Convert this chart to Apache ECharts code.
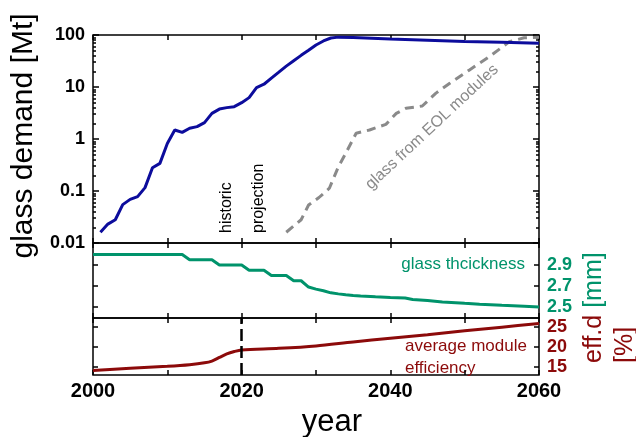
<!DOCTYPE html>
<html><head><meta charset="utf-8">
<script src="https://cdn.jsdelivr.net/npm/echarts@6/dist/echarts.min.js"></script>
<style>html,body{margin:0;padding:0;background:#fff}#c{width:636px;height:437px}</style>
</head><body><div id="c"></div>
<script>
// ---- data ----
const demandYears  = [2001,2002,2003,2004,2005,2006,2007,2008,2009,2010,2011,2012,2013,2014,2015,2016,2017,2018,2019,2020,2021,2022,2023,2024,2025,2026,2027,2028,2029,2030,2031,2032,2033,2035,2040,2045,2050,2055,2060];
const demandValues = [0.0161,0.0231,0.028,0.0547,0.069,0.078,0.116,0.28,0.34,0.82,1.49,1.34,1.61,1.73,2.07,3.11,3.76,4.01,4.19,4.99,6.25,9.75,11.3,14.8,19.3,25.2,32,40.6,50.8,64.3,76.8,87.5,91,89.3,84,79.5,75,72.3,69.6];
const eolYears  = [2026,2028,2029,2030.4,2031.8,2033,2034,2035.4,2037.2,2039.4,2040.8,2042.1,2044.3,2046.1,2048,2050.6,2053.3,2056,2058,2060];
const eolValues = [0.0161,0.028,0.0537,0.075,0.113,0.29,0.53,1.29,1.49,1.91,3.11,3.89,4.31,7.54,11.8,21.1,38.3,74,88.3,90.2];
const thicknessYears  = [2000,2012,2013,2016,2017,2020,2021,2023,2024,2026,2027,2028,2029,2030,2031,2032,2033,2034,2035,2036,2038,2040,2042,2043,2045,2047,2050,2052,2055,2058,2060];
const thicknessValues = [3.0,3.0,2.95,2.95,2.9,2.9,2.85,2.85,2.8,2.8,2.75,2.75,2.69,2.67,2.655,2.635,2.625,2.617,2.61,2.605,2.597,2.59,2.585,2.572,2.562,2.548,2.535,2.527,2.516,2.507,2.5];
const efficiencyYears  = [2000,2005,2010,2013,2015,2016,2017,2018,2019,2020,2025,2030,2035,2040,2045,2050,2055,2060];
const efficiencyValues = [14.0,14.6,15.1,15.5,15.95,16.4,17.3,18.2,18.8,19.2,19.6,20.2,21.2,22.1,23.0,24.0,24.9,25.8];
const xTickLabels = [2000,2020,2040,2060];
const demandTicks = [0.01,0.1,1,10,100];
const thicknessTicks = [2.5,2.7,2.9];
const efficiencyTicks = [15,20,25];
const projectionYear = 2020;

const BLUE='#0c0c9c', GREEN='#00936b', RED='#8c0a0a', GREY='#8a8a8a';
const FONT='Liberation Sans, Arial, sans-serif';
const pairs=(xs,ys)=>xs.map((x,i)=>[x,ys[i]]);

const minorLog=[];
for(let n=-2;n<=1;n++){for(let k=2;k<=9;k++){minorLog.push(n+Math.log10(k));}}

const grids=[
  {left:93,right:97,top:35,height:208},
  {left:93,right:97,top:243,height:75},
  {left:93,right:97,top:318,height:57}
].map(g=>Object.assign(g,{show:true,borderColor:'#000',borderWidth:1.5,backgroundColor:'transparent'}));

const TICK={color:'#000',width:1.5};
function xAx(grid,pos,labels){
  return {type:'value',gridIndex:grid,position:pos,min:2000,max:2060,interval:10,
    axisLine:{show:false,onZero:false},splitLine:{show:false},
    axisTick:{show:true,inside:true,length:5,lineStyle:TICK},
    axisLabel:{show:!!labels,margin:6,color:'#000',fontFamily:FONT,fontWeight:'bold',fontSize:20,
      formatter:v=>xTickLabels.includes(v)?String(v):''}};
}
function yAx(grid,pos,min,max,ticks,labelColor,tickLen){
  return {type:'value',gridIndex:grid,position:pos,min:min,max:max,
    axisLine:{show:false,onZero:false},splitLine:{show:false},
    axisTick:{show:true,inside:true,length:tickLen||5,customValues:ticks,lineStyle:TICK},
    axisLabel:{show:!!labelColor,customValues:ticks,margin:8,color:labelColor||'#000',fontFamily:FONT,fontWeight:'bold',fontSize:18}};
}

const option={
  animation:false,
  grid:grids,
  xAxis:[xAx(0,'bottom'),xAx(0,'top'),xAx(1,'bottom'),xAx(1,'top'),xAx(2,'bottom',true),xAx(2,'top')],
  yAxis:[
    {type:'log',gridIndex:0,position:'left',min:0.01,max:100,logBase:10,
     axisLine:{show:false,onZero:false},splitLine:{show:false},
     axisTick:{show:true,inside:true,length:6,lineStyle:TICK},
     axisLabel:{show:true,margin:8,padding:[5,0,0,0],color:'#000',fontFamily:FONT,fontWeight:'bold',fontSize:18,
       formatter:v=>{const r=demandTicks.find(t=>Math.abs(t-v)/t<1e-6);return r===undefined?'':String(r);}}},
    {type:'log',gridIndex:0,position:'right',min:0.01,max:100,logBase:10,
     axisLine:{show:false,onZero:false},splitLine:{show:false},
     axisTick:{show:true,inside:true,length:6,lineStyle:TICK},axisLabel:{show:false}},
    yAx(0,'left',-2,2,minorLog,null,3),
    yAx(0,'right',-2,2,minorLog,null,3),
    yAx(1,'left',2.395,3.11,thicknessTicks,null,5),
    yAx(1,'right',2.395,3.11,thicknessTicks,GREEN,5),
    yAx(2,'left',12.9,27.2,efficiencyTicks,null,5),
    yAx(2,'right',12.9,27.2,efficiencyTicks,RED,5)
  ],
  series:[
    {type:'line',xAxisIndex:0,yAxisIndex:0,data:pairs(demandYears,demandValues),showSymbol:false,symbol:'none',
     lineStyle:{color:BLUE,width:3},z:3},
    {type:'line',xAxisIndex:0,yAxisIndex:0,data:pairs(eolYears,eolValues),showSymbol:false,symbol:'none',
     lineStyle:{color:GREY,width:3,type:[9,6]},z:2},
    {type:'line',xAxisIndex:2,yAxisIndex:4,data:pairs(thicknessYears,thicknessValues),showSymbol:false,symbol:'none',
     lineStyle:{color:GREEN,width:3}},
    {type:'line',xAxisIndex:4,yAxisIndex:6,data:pairs(efficiencyYears,efficiencyValues),showSymbol:false,symbol:'none',
     smooth:0.3,lineStyle:{color:RED,width:3},
     markLine:{silent:true,symbol:'none',label:{show:false},
       lineStyle:{color:'#000',width:2.5,type:[12,5]},data:[{xAxis:projectionYear}]}}
  ],
  graphic:[
    {type:'text',x:24,y:136,rotation:Math.PI/2,style:{text:'glass demand [Mt]',font:'30px '+FONT,fill:'#000',textAlign:'center',textVerticalAlign:'middle'}},
    {type:'text',x:332,y:422,style:{text:'year',font:'31px '+FONT,fill:'#000',textAlign:'center',textVerticalAlign:'middle'}},
    {type:'text',x:227,y:233,rotation:Math.PI/2,style:{text:'historic',font:'16px '+FONT,fill:'#000',textAlign:'left',textVerticalAlign:'middle'}},
    {type:'text',x:259,y:233,rotation:Math.PI/2,style:{text:'projection',font:'16px '+FONT,fill:'#000',textAlign:'left',textVerticalAlign:'middle'}},
    {type:'text',x:432,y:127,rotation:43*Math.PI/180,style:{text:'glass from EOL modules',font:'16px '+FONT,fill:GREY,textAlign:'center',textVerticalAlign:'middle'}},
    {type:'text',x:525,y:264,style:{text:'glass thcickness',font:'17px '+FONT,fill:GREEN,textAlign:'right',textVerticalAlign:'middle'}},
    {type:'text',x:405,y:346,style:{text:'average module',font:'17px '+FONT,fill:RED,textAlign:'left',textVerticalAlign:'middle'}},
    {type:'text',x:405,y:368,style:{text:'efficiency',font:'17px '+FONT,fill:RED,textAlign:'left',textVerticalAlign:'middle'}},
    {type:'text',x:594,y:363,rotation:Math.PI/2,style:{text:'{r|eff.d }{g|[mm]}',font:'25px '+FONT,textAlign:'left',textVerticalAlign:'middle',
      rich:{r:{fill:RED,font:'25px '+FONT},g:{fill:GREEN,font:'25px '+FONT}}}},
    {type:'text',x:625,y:363,rotation:Math.PI/2,style:{text:'[%]',font:'25px '+FONT,fill:RED,textAlign:'left',textVerticalAlign:'middle'}}
  ]
};
const chart=echarts.init(document.getElementById('c'),null,{renderer:'canvas'});
chart.setOption(option);
</script></body></html>
